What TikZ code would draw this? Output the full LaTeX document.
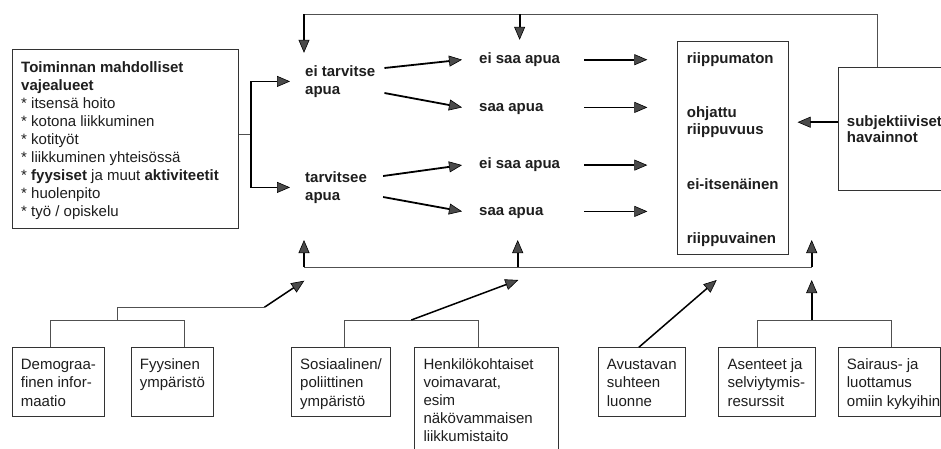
\documentclass[tikz,border=0pt]{standalone}
\usepackage{fontspec}
\setmainfont{Liberation Sans}
\usetikzlibrary{arrows.meta,calc}
\newcommand{\ml}[1]{\begin{tabular}[t]{@{}l@{}}#1\end{tabular}}
\newcommand{\dfont}{\fontsize{15}{18}\selectfont}
\definecolor{ink}{HTML}{1E1E1E}
\definecolor{boxc}{HTML}{333333}
\definecolor{linec}{HTML}{505050}
\definecolor{headc}{HTML}{4A4A4A}
\begin{document}
\begin{tikzpicture}[x=1pt,y=-1pt,
  box/.style={draw=boxc, line width=0.9pt, inner sep=0pt, anchor=north west},
  txt/.style={inner sep=0pt, anchor=base west, text=ink, font=\dfont},
  txtb/.style={txt, font=\dfont\bfseries},
  thinline/.style={draw=linec, line width=0.9pt},
  arr/.style={draw=black, line width=1.8pt, -{Triangle[length=13pt,width=11pt,fill=headc,line width=0.6pt]}}]
\useasboundingbox (0,0) rectangle (941,448);
\fill[white] (0,0) rectangle (941,448);
\clip (0,0) rectangle (941,448);

% ---------- boxes ----------
\node[box, minimum width=226pt, minimum height=178.4pt] (L) at (11.7,49.3) {};
\node[box, minimum width=111pt, minimum height=213.3pt] (R) at (677.3,40.7) {};
\node[box, minimum width=130pt, minimum height=123.3pt] (S) at (837.7,66.7) {};
\node[box, minimum width=92.3pt, minimum height=68.7pt] (Demo) at (11.7,347.3) {};
\node[box, minimum width=82.3pt, minimum height=68.7pt] (Fyys) at (130.7,347.3) {};
\node[box, minimum width=99pt, minimum height=68.7pt] (Sos) at (291,347.3) {};
\node[box, minimum width=143.4pt, minimum height=120pt] (Henk) at (414.3,347.3) {};
\node[box, minimum width=87.3pt, minimum height=68.7pt] (Av) at (597.7,347.3) {};
\node[box, minimum width=96.7pt, minimum height=68.7pt] (Ase) at (718.3,347.3) {};
\node[box, minimum width=102.3pt, minimum height=68.7pt] (Sai) at (837.7,347.3) {};

% ---------- texts ----------
\node[txt] (Lt) at (21,72.7) {\ml{\textbf{Toiminnan mahdolliset}\\\textbf{vajealueet}\\{*} itsensä hoito\\{*} kotona liikkuminen\\{*} kotityöt\\{*} liikkuminen yhteisössä\\{*} \textbf{fyysiset} ja muut \textbf{aktiviteetit}\\{*} huolenpito\\{*} työ / opiskelu}};

\node[txtb, inner xsep=9pt] (eit) at (296,76) {\ml{ei tarvitse\\apua}};
\node[txtb, inner xsep=9pt] (tarv) at (296,182) {\ml{tarvitsee\\apua}};

\node[txtb, inner xsep=17pt] (s1) at (462,63.3) {\ml{ei saa apua}};
\node[txtb, inner xsep=17pt] (s2) at (462,111) {\ml{saa apua}};
\node[txtb, inner xsep=17pt] (s3) at (462,168.7) {\ml{ei saa apua}};
\node[txtb, inner xsep=17pt] (s4) at (462,215) {\ml{saa apua}};

\node[txtb] (r1) at (686.7,63.3) {\ml{riippumaton}};
\node[txtb] (r2) at (686.7,117.3) {\ml{ohjattu\\[-1pt]riippuvuus}};
\node[txtb] (r3) at (686.7,189.3) {\ml{ei-itsenäinen}};
\node[txtb] (r4) at (686.7,243.3) {\ml{riippuvainen}};

\node[txtb] (St) at (846.7,126) {\ml{subjektiiviset\\[-1.3pt]havainnot}};

\node[txt] (Demot) at (20.7,369.3) {\ml{Demograa-\\[0.5pt]finen infor-\\[0.5pt]maatio}};
\node[txt] (Fyyst) at (139.7,369.3) {\ml{Fyysinen\\[0.5pt]ympäristö}};
\node[txt] (Sost) at (300,369.3) {\ml{Sosiaalinen/\\[0.5pt]poliittinen\\[0.5pt]ympäristö}};
\node[txt] (Henkt) at (423.3,369.3) {\ml{Henkilökohtaiset\\voimavarat,\\esim\\näkövammaisen\\liikkumistaito}};
\node[txt] (Avt) at (606.7,369.3) {\ml{Avustavan\\[0.5pt]suhteen\\[0.5pt]luonne}};
\node[txt] (Aset) at (727.3,369.3) {\ml{Asenteet ja\\[0.5pt]selviytymis-\\[0.5pt]resurssit}};
\node[txt] (Sait) at (846.7,369.3) {\ml{Sairaus- ja\\[0.5pt]luottamus\\[0.5pt]omiin kykyihin}};

% ---------- coordinates ----------
\coordinate (jL) at (250.7,134);
\coordinate (xo) at (584,0);
\coordinate (tl) at (304,14);
\coordinate (tr) at (877.7,14);
\coordinate (tm) at (s1.north |- tl);
\coordinate (sa) at ([yshift=6.6pt]S.west);
\coordinate (bl) at (304,267);
\coordinate (bm) at (517.7,267);
\coordinate (br) at (811.7,267);
\coordinate (u1) at (304,240);
\coordinate (u2) at (517.7,240);
\coordinate (u3) at (811.7,240);
\coordinate (g1a) at (50.7,320);
\coordinate (g1b) at (184.3,320);
\coordinate (g1m) at (117.7,320);
\coordinate (g1t) at (117.7,307.3);
\coordinate (g1e) at (264.3,307.3);
\coordinate (d1) at (304.3,280.7);
\coordinate (g2a) at (344.3,320);
\coordinate (g2b) at (478.3,320);
\coordinate (g2m) at (411.3,320);
\coordinate (d2) at (518.3,280);
\coordinate (d3) at (716.7,280);
\coordinate (g3a) at (757.7,320);
\coordinate (g3b) at (891,320);
\coordinate (g3m) at (811.7,320);
\coordinate (d4) at (811.7,280);

% ---------- left branch ----------
\draw[thinline] (jL -| L.east) -- (jL);
\draw[arr, shorten >=6pt] (jL) |- (eit.west);
\draw[arr, shorten >=6pt] (jL) |- (tarv.west);

% ---------- need -> help ----------
\draw[arr] ([yshift=13.4pt]eit.east) -- (s1.west);
\draw[arr] ([yshift=-11.6pt]eit.east) -- (s2.west);
\draw[arr] ([xshift=7pt,yshift=11.4pt]tarv.east) -- (s3.west);
\draw[arr] ([xshift=7pt,yshift=-9.6pt]tarv.east) -- (s4.west);

% ---------- help -> dependency box ----------
\foreach \s in {s1,s2,s3,s4}
  \draw[arr, shorten >=30pt] (\s.east -| xo) -- (\s.east -| R.west);

% ---------- top feedback ----------
\draw[thinline] (S.north -| tr) -- (tr) -- (tl);
\draw[arr, shorten >=10.4pt] (tl) -- (tl |- eit.north);
\draw[arr, shorten >=10.7pt] (tm) -- (s1.north);

% ---------- subjective -> box ----------
\draw[arr, shorten >=8.4pt] (sa) -- (sa -| R.east);

% ---------- bottom line ----------
\draw[thinline] (bl) -- (br);
\draw[arr] (bl) -- (u1);
\draw[arr] (bm) -- (u2);
\draw[arr] (br) -- (u3);

% ---------- groups ----------
\draw[thinline] (Demo.north -| g1a) -- (g1a) -- (g1b) -- (Fyys.north -| g1b);
\draw[thinline] (g1m) -- (g1t) -- (g1e);
\draw[arr, line width=1.5pt] (g1e) -- (d1);

\draw[thinline] (Sos.north -| g2a) -- (g2a) -- (g2b) -- (Henk.north -| g2b);
\draw[arr, line width=1.5pt] (g2m) -- (d2);

\draw[arr, line width=1.5pt] ([xshift=-3pt]Av.north) -- (d3);

\draw[thinline] (Ase.north -| g3a) -- (g3a) -- (g3b) -- (Sai.north -| g3b);
\draw[arr] (g3m) -- (d4);
\end{tikzpicture}
\end{document}
